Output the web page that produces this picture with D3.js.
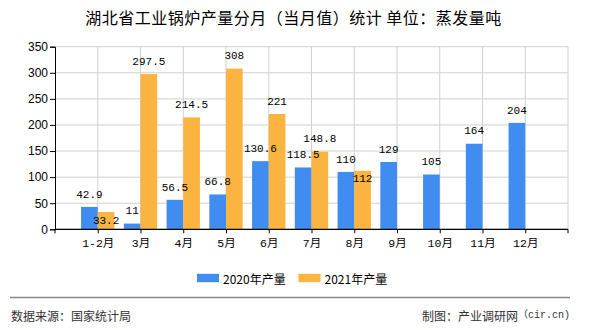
<!DOCTYPE html>
<html><head><meta charset="utf-8">
<script src="https://cdn.jsdelivr.net/npm/d3@7"></script>
<style>
html,body{margin:0;padding:0;background:#fff;}
svg{display:block;}
</style></head>
<body>
<script>
const categories = ["1-2月","3月","4月","5月","6月","7月","8月","9月","10月","11月","12月"];
const series2020 = [42.9, 11, 56.5, 66.8, 130.6, 118.5, 110, 129, 105, 164, 204];
const series2021 = [33.2, 297.5, 214.5, 308, 221, 148.8, 112, null, null, null, null];
const seriesNames = ["2020年产量","2021年产量"];
const yTicks = [0,50,100,150,200,250,300,350];
const titleText = "湖北省工业锅炉产量分月（当月值）统计 单位：蒸发量吨";
const sourceText = "数据来源：国家统计局";
const creditText = "制图：产业调研网";
const creditSite = "（cir.cn)";
const colors = ["#418CF0", "#FCB441"];

const W = 590, H = 330;
const plot = {l: 55, r: 568, t: 46.7, b: 229.3};
const svg = d3.select("body").append("svg").attr("width", W).attr("height", H);

// scales
const slot = (plot.r - plot.l) / (categories.length + 1);
const x = d3.scalePoint().domain(categories).range([plot.l + slot, plot.r - slot]);
const y = d3.scaleLinear().domain([0, 350]).range([plot.b, plot.t]);
const barW = slot * 0.39;

// title
svg.append("text").attr("x", 293.5).attr("y", 17).attr("text-anchor", "middle")
  .attr("dominant-baseline", "central")
  .style("font-family", "'Noto Sans CJK SC', sans-serif").style("font-size", "16px")
  .style("letter-spacing", "0.5px").attr("fill", "#000").text(titleText);

// gridlines
const grid = svg.append("g");
grid.selectAll("line.h").data(yTicks).join("line")
  .attr("x1", plot.l).attr("x2", plot.r).attr("y1", d => y(d)).attr("y2", d => y(d))
  .attr("stroke", "#d0d0d0").attr("stroke-width", 1);
const vlines = categories.map(c => x(c)).concat([plot.r]);
grid.selectAll("line.v").data(vlines).join("line")
  .attr("x1", d => d).attr("x2", d => d).attr("y1", plot.t).attr("y2", plot.b)
  .attr("stroke", "#d0d0d0").attr("stroke-width", 1);

// bars
const bars = svg.append("g");
[series2020, series2021].forEach((s, si) => {
  bars.selectAll("rect.s" + si).data(s.map((v, i) => ({v, c: categories[i]})).filter(d => d.v != null))
    .join("rect")
    .attr("x", d => si === 0 ? x(d.c) - barW : x(d.c))
    .attr("width", barW)
    .attr("y", d => y(d.v))
    .attr("height", d => plot.b - y(d.v))
    .attr("fill", colors[si]);
});

// axes
const yAxis = d3.axisLeft(y).tickValues(yTicks).tickSize(5).tickPadding(2);
const gy = svg.append("g").attr("transform", `translate(${plot.l},0)`).call(yAxis);
gy.select(".domain").attr("stroke", "#000");
gy.selectAll(".tick line").attr("stroke", "#000");
gy.selectAll(".tick text").style("font-family", "'Liberation Sans', Arial, sans-serif")
  .style("font-size", "12px").attr("fill", "#000");

const xAxis = d3.axisBottom(x).tickSize(4).tickPadding(3).tickSizeOuter(0);
const gx = svg.append("g").attr("transform", `translate(0,${plot.b})`).call(xAxis);
gx.select(".domain").remove();
gx.append("line").attr("x1", plot.l).attr("x2", plot.r).attr("y1", 0).attr("y2", 0).attr("stroke", "#000").attr("stroke-width", 1.2);
gx.append("line").attr("x1", plot.l).attr("x2", plot.l).attr("y1", 0).attr("y2", 4).attr("stroke", "#000");
gx.append("line").attr("x1", plot.r).attr("x2", plot.r).attr("y1", 0).attr("y2", 4).attr("stroke", "#000");
gx.selectAll(".tick line").attr("stroke", "#000");
gx.selectAll(".tick text").style("font-family", "'Liberation Mono', 'Noto Sans CJK SC', monospace")
  .style("font-size", "11.5px").attr("fill", "#000").attr("dy", "0.9em");

// data labels
const labelFont = "'Liberation Mono', 'DejaVu Sans Mono', monospace";
const labels = svg.append("g").style("font-family", labelFont).style("font-size", "11px");
categories.forEach((c, i) => {
  const b = series2020[i], o = series2021[i];
  let by = null;
  if (b != null) {
    by = y(b) - 12.3;
    labels.append("text").attr("x", x(c) - barW / 2).attr("y", by)
      .attr("text-anchor", "middle").attr("dominant-baseline", "central").text(b);
  }
  if (o != null) {
    let oy = y(o) - 12.3;
    if (by != null && Math.abs(oy - by) < 12) oy = y(o) + 8.6;
    labels.append("text").attr("x", x(c) + barW / 2).attr("y", oy)
      .attr("text-anchor", "middle").attr("dominant-baseline", "central").text(o);
  }
});

// legend
const legend = svg.append("g").attr("transform", "translate(197,278)");
const legX = [0, 101.5];
seriesNames.forEach((n, i) => {
  legend.append("rect").attr("x", legX[i]).attr("y", -4.2).attr("width", 22).attr("height", 8.4).attr("fill", colors[i]);
  legend.append("text").attr("x", legX[i] + 26).attr("y", 0).attr("dominant-baseline", "central")
    .style("font-family", "'Noto Sans CJK SC', sans-serif").style("font-size", "12px").attr("fill", "#000").text(n);
});

// footer
svg.append("line").attr("x1", 10).attr("x2", 570).attr("y1", 297.5).attr("y2", 297.5)
  .attr("stroke", "#888").attr("stroke-width", 1.5);
svg.append("text").attr("x", 11).attr("y", 315).attr("dominant-baseline", "central")
  .style("font-family", "'Noto Sans CJK SC', sans-serif").style("font-size", "12px").attr("fill", "#333").text(sourceText);
const credit = svg.append("text").attr("x", 570).attr("y", 315).attr("text-anchor", "end").attr("dominant-baseline", "central")
  .style("font-family", "'Noto Sans CJK SC', sans-serif").style("font-size", "12px").attr("fill", "#333");
credit.append("tspan").text(creditText);
credit.append("tspan").style("font-family", "'Liberation Mono', 'Noto Sans CJK SC', monospace").style("font-size", "10px").text(creditSite);
</script>
</body></html>
